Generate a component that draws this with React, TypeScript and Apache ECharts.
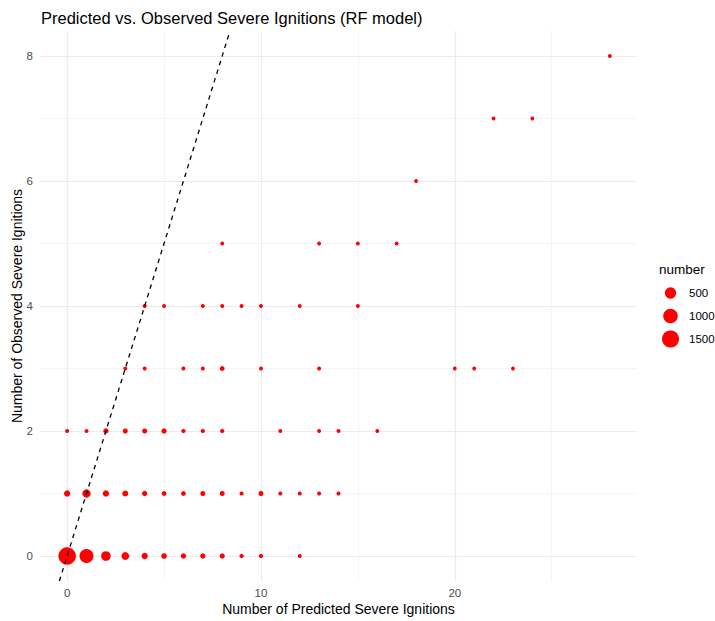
import React, { useEffect, useRef } from "react";
import * as echarts from "echarts";

// Observed severe ignitions (y) vs predicted (x), with number of cases at each pair
const predicted = [
  0, 1, 2, 3, 4, 5, 6, 7, 8, 9, 10, 12, // observed 0
  0, 1, 2, 3, 4, 5, 6, 7, 8, 9, 10, 11, 12, 13, 14, // observed 1
  0, 1, 2, 3, 4, 5, 6, 7, 8, 11, 13, 14, 16, // observed 2
  3, 4, 6, 7, 8, 10, 13, 20, 21, 23, // observed 3
  4, 5, 7, 8, 9, 10, 12, 15, // observed 4
  8, 13, 15, 17, // observed 5
  18, // observed 6
  22, 24, // observed 7
  28, // observed 8
];
const observed = [
  0, 0, 0, 0, 0, 0, 0, 0, 0, 0, 0, 0,
  1, 1, 1, 1, 1, 1, 1, 1, 1, 1, 1, 1, 1, 1, 1,
  2, 2, 2, 2, 2, 2, 2, 2, 2, 2, 2, 2, 2,
  3, 3, 3, 3, 3, 3, 3, 3, 3, 3,
  4, 4, 4, 4, 4, 4, 4, 4,
  5, 5, 5, 5,
  6,
  7, 7,
  8,
];
const counts = [
  1600, 900, 300, 150, 70, 35, 32, 28, 28, 6, 6, 2,
  66, 190, 66, 53, 28, 15, 15, 20, 20, 4, 20, 3, 3, 3, 3,
  2, 2, 28, 20, 20, 28, 6, 6, 6, 2, 2, 2, 1,
  2, 2, 2, 2, 15, 2, 2, 1, 1, 1,
  3, 2, 2, 2, 2, 2, 1, 1,
  1, 1, 1, 1,
  1,
  1, 1,
  1,
];

const xLabels = [0, 10, 20];
const yLabels = [0, 2, 4, 6, 8];
const xMajor = [0, 10, 20];
const xMinor = [5, 15, 25];
const yMajor = [0, 2, 4, 6, 8];
const yMinor = [1, 3, 5, 7];
const legendBreaks = [500, 1000, 1500];

const X_MIN = -1.4;
const X_MAX = 29.4;
const Y_MIN = -0.4;
const Y_MAX = 8.4;

const sizeOf = (n: number) => 3.45 + 0.351 * Math.sqrt(n);

export default function App() {
  const ref = useRef<HTMLDivElement>(null);
  useEffect(() => {
    if (!ref.current) return;
    const chart = echarts.init(ref.current, undefined, { renderer: "svg" });
    const font = "Liberation Sans, Arial, sans-serif";
    const points = predicted.map((p, i) => [p, observed[i], counts[i]]);
    const major = { color: "#EBEBEB", width: 1.2, type: "solid" as const };
    const minor = { color: "#F2F2F2", width: 0.8, type: "solid" as const };
    const gridLines = [
      ...xMinor.map((v) => ({ xAxis: v, lineStyle: minor })),
      ...yMinor.map((v) => ({ yAxis: v, lineStyle: minor })),
      ...xMajor.map((v) => ({ xAxis: v, lineStyle: major })),
      ...yMajor.map((v) => ({ yAxis: v, lineStyle: major })),
    ];
    const legendTop = 293;
    const legendStep = 23;
    const graphic: any[] = [
      {
        type: "text",
        left: 659,
        top: 262,
        style: { text: "number", fontSize: 13.5, fontFamily: font, fill: "#000" },
      },
    ];
    legendBreaks.forEach((b, i) => {
      const cy = legendTop + i * legendStep;
      graphic.push({
        type: "circle",
        shape: { cx: 670.5, cy, r: sizeOf(b) / 2 },
        style: { fill: "#FF0000" },
      });
      graphic.push({
        type: "text",
        x: 689,
        y: cy,
        style: {
          text: String(b),
          fontSize: 11.5,
          fontFamily: font,
          fill: "#000",
          verticalAlign: "middle",
        },
      });
    });

    chart.setOption({
      animation: false,
      backgroundColor: "#FFFFFF",
      textStyle: { fontFamily: font },
      title: {
        text: "Predicted vs. Observed Severe Ignitions (RF model)",
        left: 36,
        top: 4,
        textStyle: { fontSize: 16.5, fontWeight: "normal", color: "#000", fontFamily: font },
      },
      grid: {
        left: 40,
        right: 78,
        top: 31,
        bottom: 40,
        containLabel: false,
        outerBoundsMode: "none",
      },
      xAxis: {
        type: "value",
        min: X_MIN,
        max: X_MAX,
        name: "Number of Predicted Severe Ignitions",
        nameLocation: "middle",
        nameGap: 21,
        nameMoveOverlap: false,
        nameTextStyle: { fontSize: 14, color: "#000", fontFamily: font },
        axisLine: { show: false },
        axisTick: { show: false },
        splitLine: { show: false },
        axisLabel: {
          customValues: xLabels,
          color: "#4D4D4D",
          fontSize: 11.5,
          margin: 6,
          fontFamily: font,
        },
      },
      yAxis: {
        type: "value",
        min: Y_MIN,
        max: Y_MAX,
        name: "Number of Observed Severe Ignitions",
        nameLocation: "middle",
        nameGap: 16,
        nameRotate: 90,
        nameMoveOverlap: false,
        nameTextStyle: { fontSize: 14, color: "#000", fontFamily: font },
        axisLine: { show: false },
        axisTick: { show: false },
        splitLine: { show: false },
        axisLabel: {
          customValues: yLabels,
          color: "#4D4D4D",
          fontSize: 11.5,
          margin: 7,
          fontFamily: font,
        },
      },
      graphic,
      series: [
        {
          type: "line",
          data: [],
          z: 0,
          silent: true,
          markLine: {
            silent: true,
            z: 0,
            symbol: ["none", "none"],
            label: { show: false },
            animation: false,
            data: gridLines,
          },
        },
        {
          type: "scatter",
          data: points,
          z: 2,
          symbol: "circle",
          symbolSize: (v: number[]) => sizeOf(v[2]),
          itemStyle: { color: "#FF0000", opacity: 1 },
        },
        {
          type: "line",
          data: [
            [Y_MIN, Y_MIN],
            [Y_MAX, Y_MAX],
          ],
          z: 3,
          showSymbol: false,
          symbol: "none",
          silent: true,
          lineStyle: { color: "#000000", width: 1.3, type: [4.5, 4.5] },
        },
      ],
    });
    return () => chart.dispose();
  }, []);
  return (
    <div
      ref={ref}
      style={{ position: "fixed", left: 0, top: 0, width: 715, height: 621 }}
    />
  );
}
